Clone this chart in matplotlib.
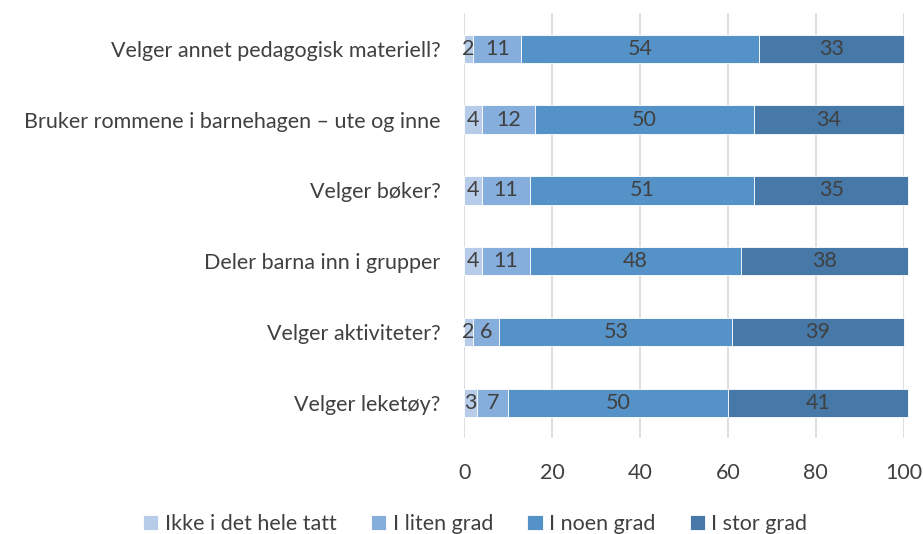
import matplotlib.pyplot as plt
import numpy as np

plt.rcParams['font.family'] = ['Lato', 'DejaVu Sans']

# data (bottom to top as drawn)
categories = ["Velger leketøy?", "Velger aktiviteter?", "Deler barna inn i grupper",
              "Velger bøker?", "Bruker rommene i barnehagen – ute og inne",
              "Velger annet pedagogisk materiell?"]
ikke = [3, 2, 4, 4, 4, 2]
liten = [7, 6, 11, 11, 12, 11]
noen = [50, 53, 48, 51, 50, 54]
stor = [41, 39, 38, 35, 34, 33]
series_names = ["Ikke i det hele tatt", "I liten grad", "I noen grad", "I stor grad"]
colors = ["#B7CCE8", "#86AEDC", "#5592C8", "#4678A8"]
text_col = "#404040"
fs = 15.5

fig = plt.figure(figsize=(9.23, 5.34), dpi=100)
ax = fig.add_axes([0.503, 0.179, 0.476, 0.796])

y = np.arange(len(categories))
left = np.zeros(len(categories))
for vals, name, c in zip([ikke, liten, noen, stor], series_names, colors):
    ax.barh(y, vals, left=left, height=0.4, color=c, label=name,
            edgecolor='white', linewidth=0.6, clip_on=False, zorder=3)
    for yi, l, v in zip(y, left, vals):
        ax.text(l + v / 2, yi, str(v), ha='center', va='center',
                fontsize=fs, color=text_col, zorder=4)
    left += np.array(vals)

ax.set_xlim(0, 100)
ax.set_ylim(-0.5, len(categories) - 0.5)
ax.set_xticks([0, 20, 40, 60, 80, 100])
ax.set_yticks(y)
ax.set_yticklabels(categories)
ax.tick_params(axis='both', length=0, labelsize=fs, labelcolor=text_col)
ax.tick_params(axis='y', pad=17)
ax.tick_params(axis='x', pad=18)
ax.grid(axis='x', color='#D9D9D9', linewidth=1.2, zorder=0)
for s in ax.spines.values():
    s.set_visible(False)

# legend along the bottom of the figure
ax.legend(loc='lower center', bbox_to_anchor=(0.515, -0.036), bbox_transform=fig.transFigure,
          ncol=4, frameon=False, fontsize=fs, labelcolor=text_col,
          handlelength=0.7, handleheight=0.7, handletextpad=0.3, columnspacing=1.6)

plt.savefig('out.png', dpi=100)
